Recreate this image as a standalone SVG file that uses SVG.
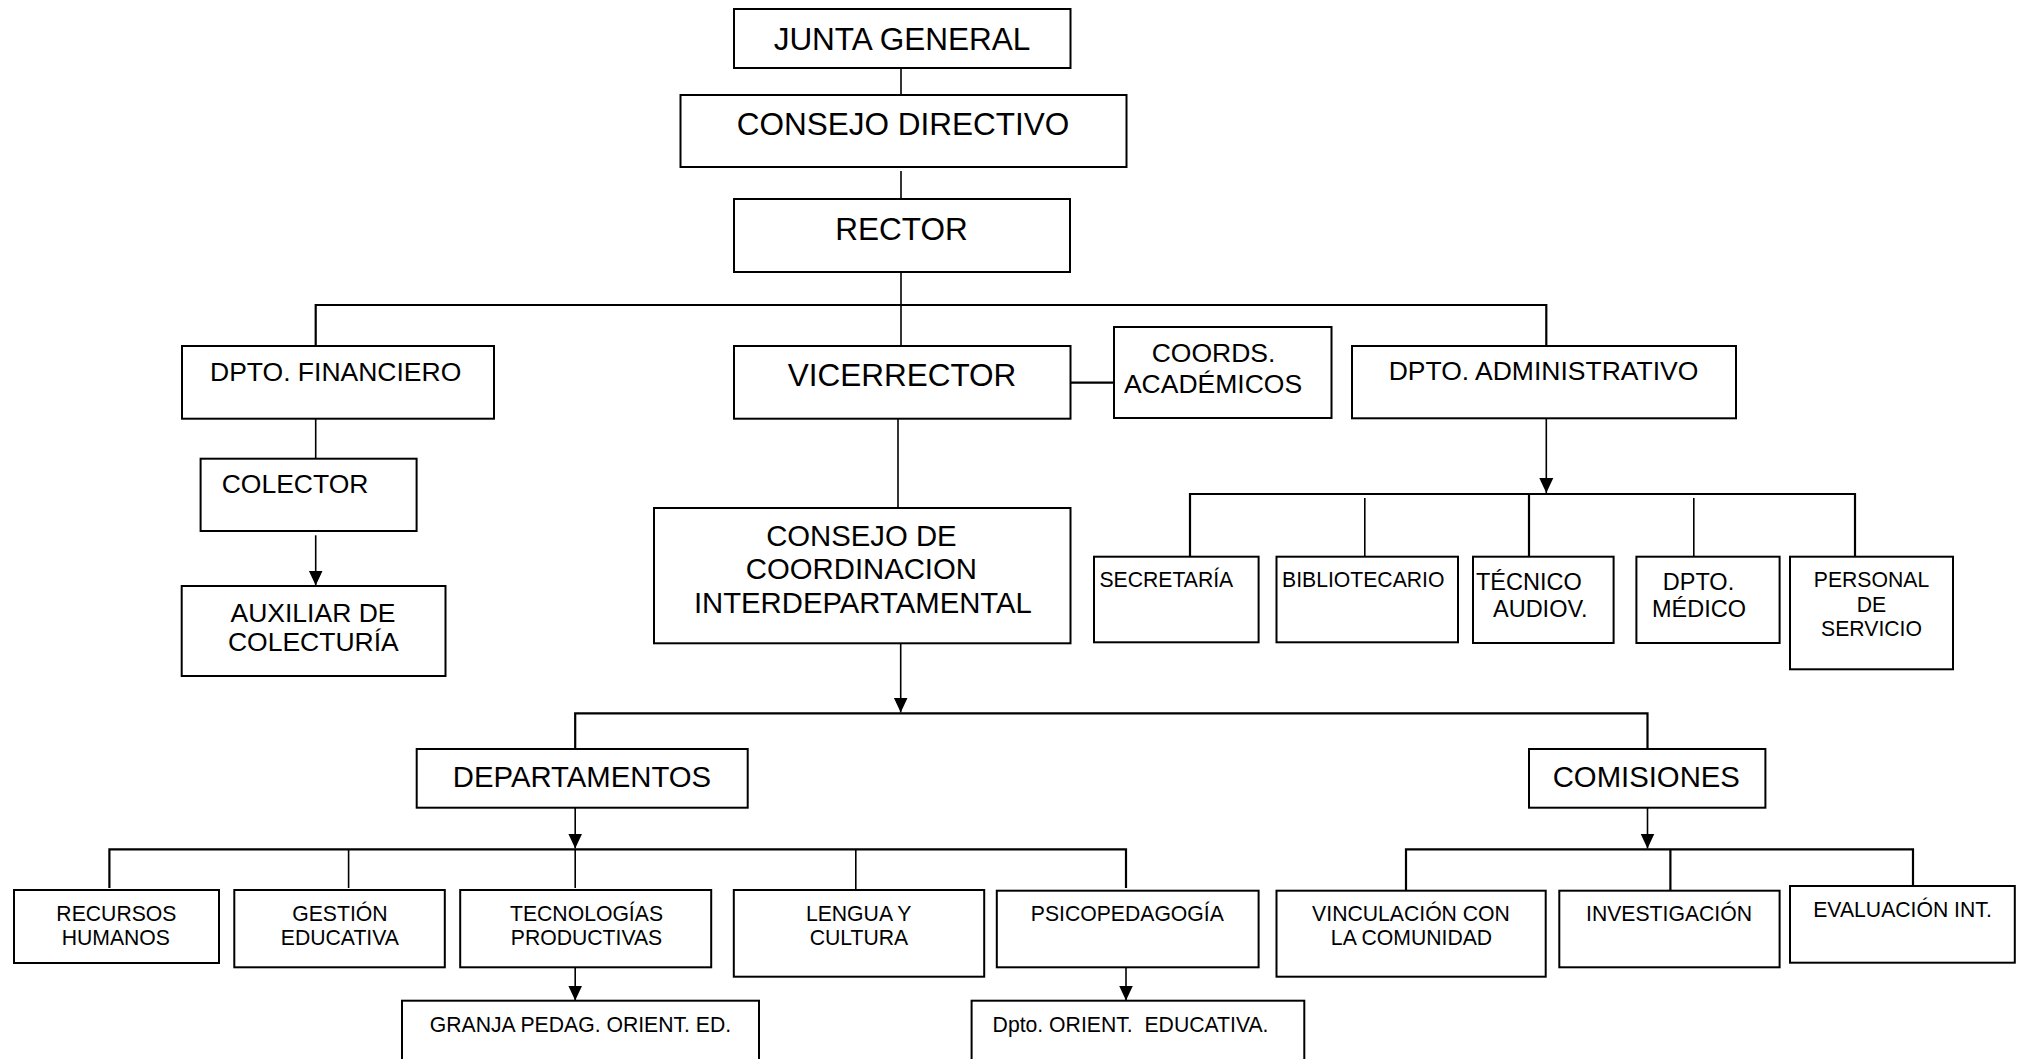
<svg xmlns="http://www.w3.org/2000/svg" width="2018" height="1059" viewBox="0 0 2018 1059">
<style>
  .box{fill:#fff;stroke:#000;stroke-width:2}
  .ln{fill:none;stroke:#000;stroke-width:1.6}
  .lnb{fill:none;stroke:#000;stroke-width:2.2}
  text{font-family:"Liberation Sans",Arial,sans-serif;fill:#000}
  .xl{font-size:31.5px;text-anchor:middle}
  .lg{font-size:29.3px;text-anchor:middle}
  .md{font-size:26.5px}
  .mdc{font-size:26.5px;text-anchor:middle}
  .sm{font-size:21.2px}
  .smc{font-size:21.2px;text-anchor:middle}
  .sm2{font-size:23.5px}
  .sm2c{font-size:23.5px;text-anchor:middle}
</style>
<defs>
  <marker id="arr" markerUnits="userSpaceOnUse" markerWidth="15" markerHeight="15" refX="15" refY="7" orient="auto" viewBox="0 0 15 14">
    <path d="M0,0 L15,7 L0,14 z" fill="#000"/>
  </marker>
</defs>
<rect width="2018" height="1059" fill="#fff"/>
<g id="connectors">
  <path class="ln" d="M901,68 V95"/>
  <path class="ln" d="M901,171 V199"/>
  <path class="ln" d="M901,272 V305"/>
  <path class="lnb" d="M315.7,346 V305 H1546.3 V346"/>
  <path class="ln" d="M901,305 V346"/>
  <path class="lnb" d="M1070.5,382.7 H1114"/>
  <path class="ln" d="M898,418.7 V508"/>
  <path class="ln" d="M315.7,418.7 V458.7"/>
  <path class="ln" d="M315.7,535.3 V585.5" marker-end="url(#arr)"/>
  <path class="ln" d="M1546.3,418.3 V493" marker-end="url(#arr)"/>
  <path class="lnb" d="M1190,556 V494 H1855 V556"/>
  <path class="ln" d="M1364.8,498 V556"/>
  <path class="lnb" d="M1529,494 V556"/>
  <path class="ln" d="M1693.8,498 V556"/>
  <path class="ln" d="M900.7,643.3 V712.5" marker-end="url(#arr)"/>
  <path class="lnb" d="M575.2,749 V713.3 H1647.5 V749"/>
  <path class="ln" d="M575.2,807.7 V848.5" marker-end="url(#arr)"/>
  <path class="lnb" d="M109.4,888 V849.3 H1126 V888"/>
  <path class="ln" d="M348.6,849.3 V888"/>
  <path class="ln" d="M575.2,849.3 V888"/>
  <path class="ln" d="M855.8,849.3 V890"/>
  <path class="ln" d="M575.2,967.3 V1000.5" marker-end="url(#arr)"/>
  <path class="ln" d="M1126,962 V1000.5" marker-end="url(#arr)"/>
  <path class="ln" d="M1647.5,807.7 V848.5" marker-end="url(#arr)"/>
  <path class="lnb" d="M1406,890.7 V849.3 H1913 V886"/>
  <path class="lnb" d="M1670.4,849.3 V890.7"/>
</g>
<g id="junta"><rect class="box" x="734" y="9" width="336.5" height="59"/><text class="xl" x="902" y="50">JUNTA GENERAL</text></g>
<g id="consejo-directivo"><rect class="box" x="680.5" y="95" width="446" height="72"/><text class="xl" x="903" y="135">CONSEJO DIRECTIVO</text></g>
<g id="rector"><rect class="box" x="734" y="199" width="336" height="73"/><text class="xl" x="901.5" y="240">RECTOR</text></g>
<g id="dpto-financiero"><rect class="box" x="182" y="346" width="312" height="72.7"/><text class="md" x="210" y="381">DPTO. FINANCIERO</text></g>
<g id="vicerrector"><rect class="box" x="734" y="346" width="336.5" height="72.7"/><text class="xl" x="902" y="386">VICERRECTOR</text></g>
<g id="coords"><rect class="box" x="1114" y="327" width="217.5" height="91"/><text class="mdc" x="1213.5" y="361.7">COORDS.</text><text class="mdc" x="1213" y="392.7">ACADÉMICOS</text></g>
<g id="dpto-administrativo"><rect class="box" x="1352" y="346" width="384" height="72.3"/><text class="mdc" x="1543.5" y="380">DPTO. ADMINISTRATIVO</text></g>
<g id="colector"><rect class="box" x="200.6" y="458.7" width="216" height="72.3"/><text class="md" x="221.7" y="493.3">COLECTOR</text></g>
<g id="auxiliar"><rect class="box" x="181.7" y="586" width="263.8" height="90"/><text class="mdc" x="313" y="621.7">AUXILIAR DE</text><text class="mdc" x="313.3" y="651">COLECTURÍA</text></g>
<g id="consejo-coordinacion"><rect class="box" x="654" y="508" width="416.5" height="135.3"/><text class="lg" x="861.4" y="546">CONSEJO DE</text><text class="lg" x="861.4" y="579.3">COORDINACION</text><text class="lg" x="862.9" y="613.3">INTERDEPARTAMENTAL</text></g>
<g id="secretaria"><rect class="box" x="1094" y="556.7" width="164.6" height="85.6"/><text class="sm" x="1099.4" y="586.7">SECRETARÍA</text></g>
<g id="bibliotecario"><rect class="box" x="1276.5" y="556.7" width="181.5" height="85.6"/><text class="sm" x="1282" y="586.7">BIBLIOTECARIO</text></g>
<g id="tecnico"><rect class="box" x="1473" y="556.7" width="140.6" height="86.3"/><text class="sm2" x="1476" y="590">TÉCNICO</text><text class="sm2" x="1493" y="617.3">AUDIOV.</text></g>
<g id="dpto-medico"><rect class="box" x="1636.4" y="556.7" width="143.2" height="86.3"/><text class="sm2c" x="1698.5" y="590">DPTO.</text><text class="sm2c" x="1699" y="617.3">MÉDICO</text></g>
<g id="personal"><rect class="box" x="1790" y="556.7" width="163" height="112.6"/><text class="smc" x="1871.5" y="586.7">PERSONAL</text><text class="smc" x="1871.5" y="611.7">DE</text><text class="smc" x="1871.5" y="636">SERVICIO</text></g>
<g id="departamentos"><rect class="box" x="416.7" y="749" width="331" height="58.7"/><text class="lg" x="582" y="786.7">DEPARTAMENTOS</text></g>
<g id="comisiones"><rect class="box" x="1529" y="749" width="236.4" height="58.7"/><text class="lg" x="1646.3" y="786.7">COMISIONES</text></g>
<g id="recursos"><rect class="box" x="14" y="890" width="205" height="73"/><text class="smc" x="116.4" y="920.7">RECURSOS</text><text class="smc" x="115.8" y="945">HUMANOS</text></g>
<g id="gestion"><rect class="box" x="234.3" y="890" width="210.5" height="77.3"/><text class="smc" x="339.9" y="920.7">GESTIÓN</text><text class="smc" x="339.9" y="945">EDUCATIVA</text></g>
<g id="tecnologias"><rect class="box" x="460.2" y="890" width="251" height="77.3"/><text class="smc" x="586.5" y="920.7">TECNOLOGÍAS</text><text class="smc" x="586.5" y="945">PRODUCTIVAS</text></g>
<g id="lengua"><rect class="box" x="733.8" y="890" width="250.4" height="86.7"/><text class="smc" x="858.7" y="920.7">LENGUA Y</text><text class="smc" x="858.9" y="945">CULTURA</text></g>
<g id="psicopedagogia"><rect class="box" x="996.8" y="890.7" width="261.8" height="76.6"/><text class="smc" x="1127.3" y="920.7">PSICOPEDAGOGÍA</text></g>
<g id="granja"><rect class="box" x="402" y="1000.7" width="357" height="80"/><text class="smc" x="580.5" y="1031.7">GRANJA PEDAG. ORIENT. ED.</text></g>
<g id="dpto-orient"><rect class="box" x="971.6" y="1000.7" width="332.7" height="80"/><text class="sm" x="992.6" y="1031.7">Dpto. ORIENT.&#160; EDUCATIVA.</text></g>
<g id="vinculacion"><rect class="box" x="1276.5" y="890.7" width="269.2" height="86"/><text class="smc" x="1411" y="920.7">VINCULACIÓN CON</text><text class="smc" x="1411.5" y="945">LA COMUNIDAD</text></g>
<g id="investigacion"><rect class="box" x="1559.3" y="890.7" width="220.3" height="76.6"/><text class="smc" x="1669" y="920.7">INVESTIGACIÓN</text></g>
<g id="evaluacion"><rect class="box" x="1790" y="886" width="224.8" height="76.7"/><text class="smc" x="1902.5" y="916.7">EVALUACIÓN INT.</text></g>
</svg>
